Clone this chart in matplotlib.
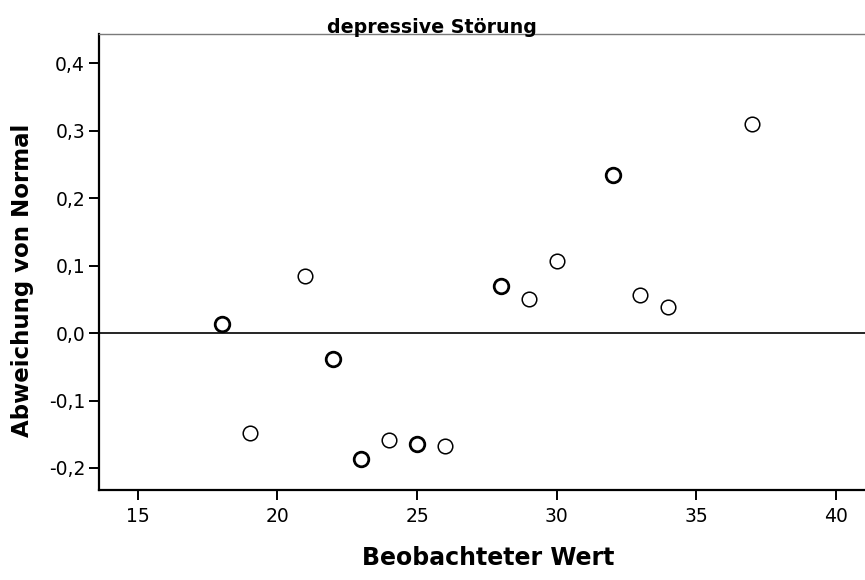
import matplotlib
matplotlib.use("Agg")
import matplotlib.pyplot as plt

# Detrended normal Q-Q plot: observed value vs. deviation from normal
observed = [18, 19, 21, 22, 23, 24, 25, 26, 28, 29, 30, 32, 33, 34, 37]
deviation = [0.014, -0.148, 0.085, -0.039, -0.187, -0.159, -0.165, -0.168,
             0.069, 0.050, 0.107, 0.234, 0.056, 0.038, 0.310]
# how many cases share each observed value (overlapping circles print darker)
frequency = [2, 1, 1, 2, 2, 1, 2, 1, 2, 1, 1, 2, 1, 1, 1]

x_ticks = [15, 20, 25, 30, 35, 40]
x_tick_labels = ["15", "20", "25", "30", "35", "40"]
y_ticks = [-0.2, -0.1, 0.0, 0.1, 0.2, 0.3, 0.4]
y_tick_labels = ["-0,2", "-0,1", "0,0", "0,1", "0,2", "0,3", "0,4"]

title = "depressive Störung"
x_label = "Beobachteter Wert"
y_label = "Abweichung von Normal"

W, H = 865, 580
fig = plt.figure(figsize=(W / 100, H / 100), dpi=100)
fig.patch.set_facecolor("white")

left, right, top, bottom = 99, 865, 34, 490
ax = fig.add_axes([left / W, 1 - bottom / H, (right - left) / W, (bottom - top) / H])
ax.set_xlim(13.61, 41.04)
ax.set_ylim(-0.2326, 0.443)

# reference line at zero deviation
ax.axhline(0.0, color="black", lw=1.2, zorder=1)

for xv, yv, n in zip(observed, deviation, frequency):
    ax.plot([xv], [yv], marker="o", ms=10.5, mfc="white", mec="black",
            mew=1.1 if n == 1 else 2.0, ls="none", zorder=3)

ax.set_xticks(x_ticks)
ax.set_xticklabels(x_tick_labels)
ax.set_yticks(y_ticks)
ax.set_yticklabels(y_tick_labels)

ax.tick_params(axis="both", direction="out", length=7, width=1.4,
               labelsize=13.5, colors="black")
ax.tick_params(axis="y", pad=3)
ax.tick_params(axis="x", pad=5)

for side in ("left", "bottom"):
    ax.spines[side].set_linewidth(1.6)
    ax.spines[side].set_color("black")
ax.spines["top"].set_linewidth(1.0)
ax.spines["top"].set_color("#7a7a7a")
ax.spines["right"].set_visible(False)

fig.text(432 / W, 1 - 33 / H, title, ha="center", va="baseline",
         fontsize=13.7, fontweight="bold")
fig.text(488 / W, 1 - 558 / H, x_label, ha="center", va="center",
         fontsize=17, fontweight="bold")
fig.text(23 / W, 1 - 280 / H, y_label, ha="center", va="center",
         rotation=90, fontsize=16.5, fontweight="bold")

fig.savefig("out.png", dpi=100, facecolor="white")
